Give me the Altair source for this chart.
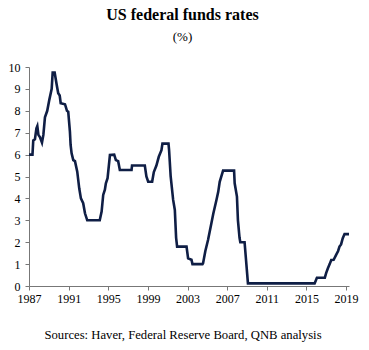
import altair as alt
import pandas as pd

years = [1987.0, 1987.35, 1987.43, 1987.6, 1987.75, 1987.84, 1987.95, 1988.1, 1988.31, 1988.45,
         1988.61, 1988.84, 1989.05, 1989.29, 1989.39, 1989.59, 1989.79, 1989.95, 1990.1, 1990.2,
         1990.63, 1990.7, 1990.83, 1990.96, 1991.13, 1991.2, 1991.3, 1991.47, 1991.64, 1991.87,
         1992.07, 1992.24, 1992.47, 1992.65, 1992.88, 1994.14, 1994.33, 1994.49, 1994.66, 1994.76,
         1994.93, 1995.17, 1995.6, 1995.77, 1996.0, 1996.17, 1997.35, 1997.4, 1998.69, 1998.85,
         1999.03, 1999.43, 1999.6, 1999.86, 2000.1, 2000.37, 2000.47, 2001.08, 2001.14, 2001.3,
         2001.55, 2001.72, 2001.85, 2001.95, 2002.9, 2003.06, 2003.4, 2003.5, 2004.51, 2004.57,
         2004.8, 2005.07, 2005.41, 2005.6, 2005.92, 2006.1, 2006.25, 2006.59, 2007.7, 2007.76,
         2007.99, 2008.09, 2008.25, 2008.33, 2008.76, 2009.1, 2015.83, 2016.06, 2016.86, 2017.0,
         2017.17, 2017.35, 2017.51, 2017.75, 2018.0, 2018.2, 2018.34, 2018.5, 2018.67, 2018.85,
         2019.3]
rates = [6.0, 6.0, 6.65, 6.7, 7.2, 7.3, 6.9, 6.8, 6.55, 6.9,
         7.7, 8.0, 8.5, 9.0, 9.75, 9.75, 9.2, 8.8, 8.7, 8.35,
         8.3, 8.2, 8.0, 7.96, 7.05, 6.44, 6.06, 5.75, 5.7, 5.22,
         4.46, 4.0, 3.78, 3.32, 3.0, 3.0, 3.4, 4.16, 4.4, 4.69,
         4.92, 5.98, 6.0, 5.75, 5.7, 5.3, 5.3, 5.5, 5.5, 5.0,
         4.76, 4.76, 5.2, 5.5, 5.9, 6.2, 6.5, 6.5, 6.2, 5.0,
         3.93, 3.47, 2.2, 1.8, 1.8, 1.26, 1.2, 1.0, 1.0, 1.04,
         1.6, 2.1, 2.86, 3.3, 3.93, 4.3, 4.76, 5.27, 5.27, 4.69,
         4.08, 3.0, 2.2, 2.0, 2.0, 0.12, 0.12, 0.38, 0.38, 0.6,
         0.81, 1.0, 1.19, 1.2, 1.42, 1.6, 1.8, 1.9, 2.18, 2.37,
         2.37]
x_ticks = [1987, 1991, 1995, 1999, 2003, 2007, 2011, 2015, 2019]
y_ticks = [0, 1, 2, 3, 4, 5, 6, 7, 8, 9, 10]

df = pd.DataFrame({"year": years, "rate": rates})
FONT = "Liberation Serif, Times New Roman, Times, DejaVu Serif, serif"

chart = alt.Chart(df).mark_line(color="#0f1e45", strokeWidth=2.6).encode(
    x=alt.X("year:Q",
            scale=alt.Scale(domain=[1987, 2019.3], nice=False, zero=False),
            axis=alt.Axis(values=x_ticks, format="d", grid=False, tickSize=4,
                          labelPadding=3, labelFont=FONT, labelFontSize=12,
                          labelColor="black", tickColor="#777777",
                          domainColor="#777777", labelFlush=False,
                          title="Sources: Haver, Federal Reserve Board, QNB analysis",
                          titleFont=FONT, titleFontSize=12.7, titleFontWeight="normal",
                          titleColor="black", titleX=153.5, titleY=52,
                          titleAlign="center", titleBaseline="alphabetic")),
    y=alt.Y("rate:Q",
            scale=alt.Scale(domain=[0, 10], nice=False),
            axis=alt.Axis(values=y_ticks, grid=False, tickSize=4, labelPadding=5,
                          labelFont=FONT, labelFontSize=12, labelColor="black",
                          tickColor="#777777", domainColor="#777777", title=None,
                          labelFlush=False)),
).properties(
    width=320,
    height=219,
    autosize=alt.AutoSizeParams(type="none"),
    padding={"left": 29, "top": 67, "right": 20, "bottom": 64},
    title=alt.TitleParams(
        text="US federal funds rates",
        subtitle="(%)",
        anchor="middle",
        font=FONT, fontSize=16, fontWeight="bold", color="black",
        subtitleFont=FONT, subtitleFontSize=13, subtitleColor="black",
        subtitlePadding=8, offset=17, dx=-6.5,
    ),
).configure_view(stroke=None)

chart.save("out.html", embed_options={"renderer": "svg", "actions": False})
